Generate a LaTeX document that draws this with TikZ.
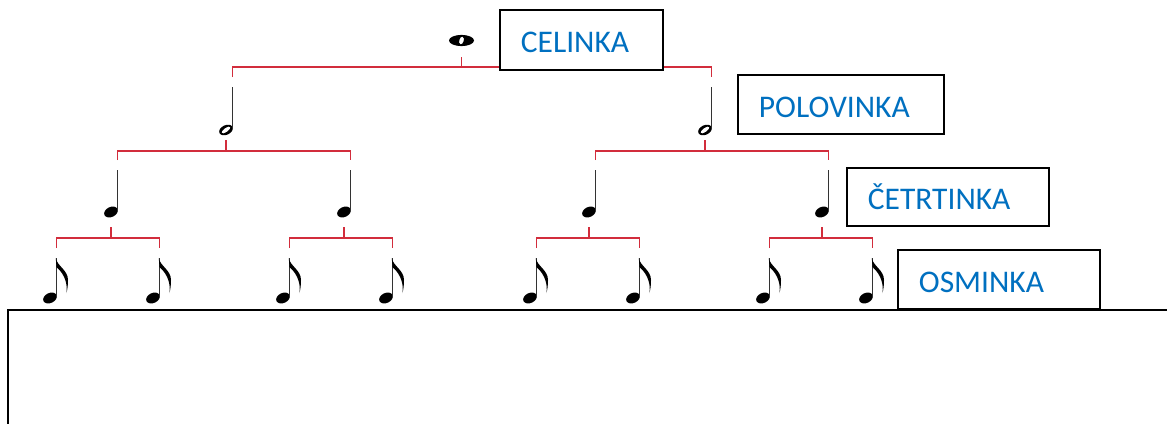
\documentclass[tikz,border=0pt]{standalone}
\usepackage{fontspec}
\setmainfont{Carlito}
\definecolor{brred}{RGB}{210,45,60}
\definecolor{lblue}{RGB}{0,112,192}
\tikzset{
  br/.style={draw=brred, line width=1.6pt},
  stemline/.style={draw=black!80, line width=1.4pt},
  labelbox/.style={draw=black, line width=1.8pt, fill=white, rectangle, anchor=north west,
    inner xsep=21pt, inner ysep=0pt, text height=26pt, text depth=0pt, align=left,
    font=\fontsize{31.5}{31.5}\selectfont, text=lblue},
  wholenote/.pic={
    \fill[even odd rule] (0pt,0pt) circle[x radius=12.5pt, y radius=5.6pt]
      (0pt,0pt) circle[x radius=2.3pt, y radius=4pt, rotate=-15];
    \coordinate (-b) at (0pt,-16.5pt);
  },
  halfnote/.pic={
    \fill[even odd rule] (0pt,0pt) circle[x radius=7.2pt, y radius=4.8pt, rotate=25]
      (0pt,0pt) circle[x radius=5.3pt, y radius=2.1pt, rotate=35];
    \draw[stemline] (6.5pt,1.5pt) -- (6.5pt,43pt);
    \coordinate (-t) at (6.5pt,43pt);
    \coordinate (-e) at (6.5pt,53pt);
    \coordinate (-j) at (6.5pt,63pt);
    \coordinate (-b) at (0pt,-10pt);
  },
  quarternote/.pic={
    \fill (0pt,0pt) circle[x radius=7.2pt, y radius=5pt, rotate=25];
    \draw[stemline] (6.5pt,1.5pt) -- (6.5pt,42pt);
    \coordinate (-t) at (6.5pt,42pt);
    \coordinate (-e) at (6.5pt,52pt);
    \coordinate (-j) at (6.5pt,61pt);
    \coordinate (-b) at (0pt,-15pt);
  },
  eighthnote/.pic={
    \fill (0pt,0pt) circle[x radius=7.2pt, y radius=5pt, rotate=25];
    \draw[stemline] (6.5pt,1.5pt) -- (6.5pt,40pt);
    \fill (5.8pt,40pt) .. controls (7pt,32pt) and (18pt,28pt) .. (18pt,18pt)
      .. controls (18pt,13pt) and (17.5pt,9pt) .. (16.5pt,5pt)
      .. controls (17.6pt,13pt) and (15.5pt,23pt) .. (6.5pt,31pt) -- cycle;
    \coordinate (-t) at (6.5pt,40pt);
    \coordinate (-e) at (6.5pt,50pt);
    \coordinate (-j) at (6.5pt,60pt);
  }
}
\begin{document}
\begin{tikzpicture}[x=1pt,y=-1pt]
\useasboundingbox (0,0) rectangle (1167,423);

% notes
\pic (w) at (461.5,40.5) {wholenote};
\pic (h1) at (226,130) {halfnote};
\pic (h2) at (705,130) {halfnote};
\pic (q1) at (111,212) {quarternote};
\pic (q2) at (344,212) {quarternote};
\pic (q3) at (589,212) {quarternote};
\pic (q4) at (822,212) {quarternote};
\pic (e1) at (50,298) {eighthnote};
\pic (e2) at (153,298) {eighthnote};
\pic (e3) at (283,298) {eighthnote};
\pic (e4) at (386,298) {eighthnote};
\pic (e5) at (530,298) {eighthnote};
\pic (e6) at (633,298) {eighthnote};
\pic (e7) at (763,298) {eighthnote};
\pic (e8) at (866,298) {eighthnote};

% brackets
\draw[br] (w-b) -- (w-b |- h1-j);
\draw[br] (h1-e) -- (h1-j) -- (h2-j) -- (h2-e);

\draw[br] (h1-b) -- (h1-b |- q1-j);
\draw[br] (q1-e) -- (q1-j) -- (q2-j) -- (q2-e);
\draw[br] (h2-b) -- (h2-b |- q3-j);
\draw[br] (q3-e) -- (q3-j) -- (q4-j) -- (q4-e);

\draw[br] (q1-b) -- (q1-b |- e1-j);
\draw[br] (e1-e) -- (e1-j) -- (e2-j) -- (e2-e);
\draw[br] (q2-b) -- (q2-b |- e3-j);
\draw[br] (e3-e) -- (e3-j) -- (e4-j) -- (e4-e);
\draw[br] (q3-b) -- (q3-b |- e5-j);
\draw[br] (e5-e) -- (e5-j) -- (e6-j) -- (e6-e);
\draw[br] (q4-b) -- (q4-b |- e7-j);
\draw[br] (e7-e) -- (e7-j) -- (e8-j) -- (e8-e);

% label boxes
\node[labelbox, text width=121pt, minimum height=60pt] (celinka) at (499,9) {CELINKA};
\node[labelbox, text width=164pt, minimum height=59pt] (polovinka) at (737,74) {POLOVINKA};
\node[labelbox, text width=160pt, minimum height=58pt] (cetrtinka) at (846,167) {ČETRTINKA};
\node[labelbox, text width=160pt, minimum height=59pt] (osminka) at (897,249) {OSMINKA};

% large frame
\draw[line width=2pt] (8,430) -- (8,309.5) -- (1175,309.5);
\end{tikzpicture}
\end{document}
